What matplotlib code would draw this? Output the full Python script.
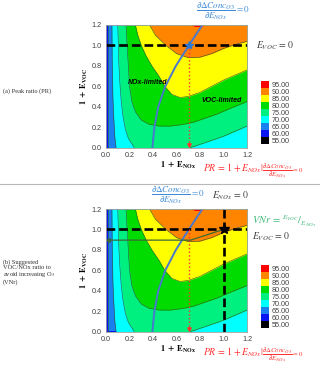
import numpy as np
import matplotlib
matplotlib.use("Agg")
import matplotlib.pyplot as plt
from matplotlib.lines import Line2D

plt.rcParams["mathtext.fontset"] = "stix"
plt.rcParams["font.family"] = ["Liberation Sans", "DejaVu Sans"]

# colour scale of the maps
levels = [55, 60, 65, 70, 75, 80, 85, 90, 95]
level_colors = ["#000000", "#0a14f0", "#1a80f0", "#00ffff", "#00f080",
                "#00dc00", "#ffff00", "#ff8400", "#ff0000"]

# contour boundaries, x = 1 + E_NOx, y = 1 + E_VOC
x65 = [0.018, 0.018]
y65 = [0.0, 1.2]
y70 = [0.0, 0.1, 0.3, 0.5, 0.8, 1.2]
x70 = [0.085, 0.075, 0.065, 0.058, 0.053, 0.05]
x75 = [0.10, 0.105, 0.11, 0.12, 0.13, 0.145, 0.165, 0.19, 0.24,
       0.72, 0.85, 1.0, 1.1, 1.2]
y75 = [1.2, 1.0, 0.8, 0.6, 0.45, 0.3, 0.18, 0.09, 0.0,
       0.0, 0.05, 0.11, 0.16, 0.21]
x80 = [0.17, 0.18, 0.19, 0.2, 0.22, 0.25, 0.3, 0.36, 0.45, 0.55, 0.65,
       0.75, 0.85, 0.95, 1.05, 1.2]
y80 = [1.2, 1.0, 0.8, 0.6, 0.45, 0.35, 0.27, 0.23, 0.21, 0.21, 0.225,
       0.25, 0.29, 0.33, 0.38, 0.45]
x85 = [0.25, 0.27, 0.30, 0.34, 0.39, 0.45, 0.50, 0.56, 0.63, 0.7, 0.8,
       0.9, 1.0, 1.1, 1.2]
y85 = [1.2, 1.1, 1.0, 0.9, 0.8, 0.7, 0.6, 0.52, 0.49, 0.5, 0.54, 0.6,
       0.66, 0.71, 0.76]
x90 = [0.37, 0.42, 0.51, 0.6, 0.7, 0.8, 0.9, 1.0, 1.1, 1.2]
y90 = [1.2, 1.1, 1.0, 0.92, 0.88, 0.885, 0.92, 0.97, 1.01, 1.04]
x95 = [0.72, 0.76, 0.80, 0.84]
y95 = [1.2, 1.185, 1.185, 1.2]

# d(dConc_O3)/dE_NOx = 0 curve
ridge_x = [0.395, 0.412, 0.445, 0.505, 0.595, 0.705, 0.82]
ridge_y = [0.0, 0.2, 0.4, 0.6, 0.8, 1.0, 1.2]

pr_x = 0.71          # peak ratio
vnr_y = 0.895        # suggested VOC/NOx level
vnr_knee_x = 0.72

ticks = [0.0, 0.2, 0.4, 0.6, 0.8, 1.0, 1.2]

W, H = 320, 368
BLUE = "#3c8ad8"
RED = "#ff3030"
GRAY = "#404040"
EDGE = "#2f5a30"


def fx(px):
    return px / W


def fy(py):
    return 1 - py / H


def draw_map(ax):
    ax.set_facecolor(level_colors[1])
    ax.fill_betweenx(y65, x65, 1.2, color=level_colors[2], lw=0)
    ax.fill_betweenx(y70, x70, 1.2, color=level_colors[3], lw=0)
    ax.fill_between(x75, y75, 1.2, color=level_colors[4], lw=0)
    ax.fill_between(x80, y80, 1.2, color=level_colors[5], lw=0)
    ax.fill_between(x85, y85, 1.2, color=level_colors[6], lw=0)
    ax.fill_between(x90, y90, 1.2, color=level_colors[7], lw=0)
    ax.fill_between(x95, y95, 1.2, color=level_colors[8], lw=0)
    for xs, ys in [(x65, y65), (x70, y70), (x75[:9], y75[:9]),
                   (x75[9:], y75[9:]), (x80, y80), (x85, y85), (x90, y90)]:
        ax.plot(xs, ys, color=EDGE, lw=0.4)
    ax.plot(ridge_x, ridge_y, color="#4a78cc", lw=1.4)
    ax.axhline(1.0, color="black", lw=1.9, dashes=(3.3, 1.5))

    # red dotted drop line to the PR value
    ax.plot([pr_x, pr_x], [1.0, 0.03], color=RED, ls=":", lw=1)
    ax.plot(pr_x, 0.025, marker="v", ms=2.5, color=RED, mec=RED)

    ax.set_xlim(0, 1.2)
    ax.set_ylim(0, 1.2)
    ax.set_xticks(ticks, [f"{t:.1f}" for t in ticks])
    ax.set_yticks(ticks, [f"{t:.1f}" for t in ticks])
    ax.tick_params(length=0, labelsize=5.2, colors=GRAY, pad=3)
    for s in ax.spines.values():
        s.set_color("#a0a0a0")
        s.set_linewidth(0.6)
    ax.set_xlabel(r"$\mathbf{1\ +\ E_{NOx}}$", fontsize=6)
    ax.set_ylabel(r"$\mathbf{1\ +\ E_{VOC}}$", fontsize=6)
    ax.xaxis.set_label_coords(0.51, -0.1)
    ax.yaxis.set_label_coords(-0.115, 0.5)


def draw_scale(cax):
    cax.barh(range(len(levels)), 1, height=1, color=level_colors, lw=0)
    cax.set_ylim(-0.5, len(levels) - 0.5)
    cax.set_xlim(0, 1)
    cax.yaxis.tick_right()
    cax.set_yticks(range(len(levels)), [f"{v:.2f}" for v in levels])
    cax.set_xticks([])
    cax.tick_params(length=0, labelsize=5.2, colors=GRAY, pad=2)
    for s in cax.spines.values():
        s.set_visible(False)


fig = plt.figure(figsize=(3.2, 3.68), dpi=100)

frac = r"$\dfrac{\partial\Delta Conc_{O3}}{\partial E_{NOx}} = 0$"
pr_txt = (r"$PR\,=\,1+E_{NOx}|_{\dfrac{\partial\Delta Conc_{O3}}"
          r"{\partial E_{NOx}}=0}$")

# ---- (a) peak ratio
ax1 = fig.add_axes([fx(106), fy(147.5), fx(141), 122.5 / H])
draw_map(ax1)
ax1.plot(pr_x, 1.0, marker="*", ms=6, color="#2f78d0", mec="#2f78d0")
ax1.text(0.355, 0.64, "NOx-limited", fontsize=5, fontweight="bold",
         style="italic", ha="center", va="center")
ax1.text(0.985, 0.46, "VOC-limited", fontsize=5, fontweight="bold",
         style="italic", ha="center", va="center")
draw_scale(fig.add_axes([fx(261), fy(144), fx(8), 63 / H]))

fig.text(fx(223), fy(11), frac, color=BLUE, fontsize=6.5,
         ha="center", va="center")
fig.text(fx(256), fy(46), r"$E_{VOC}\,=\,0$", color=GRAY, fontsize=7,
         ha="left", va="center")
fig.text(fx(203), fy(171), pr_txt, color=RED, fontsize=7,
         ha="left", va="center")
fig.text(fx(3), fy(91), "(a) Peak ratio (PR)", family="Liberation Serif",
         fontsize=4.6, color="#303030", ha="left", va="center")

fig.add_artist(Line2D([0, 1], [fy(183.5), fy(183.5)], color="#b8b8b8",
                      lw=0.8))

# ---- (b) suggested VOC/NOx ratio
ax2 = fig.add_axes([fx(106), fy(331.5), fx(141), 122.5 / H])
draw_map(ax2)
ax2.axvline(1.0, color="black", lw=1.9, dashes=(3.3, 1.5))
ax2.plot([1.0, vnr_knee_x, 0.02], [1.0, vnr_y, vnr_y], color="#3d6a35",
         lw=0.9)
ax2.plot(0.015, vnr_y, marker="<", ms=2.5, color="#3d6a35")
ax2.plot(1.0, 1.0, marker="*", ms=7, color="black")
draw_scale(fig.add_axes([fx(261), fy(328), fx(8), 63 / H]))

fig.text(fx(178), fy(195), frac, color=BLUE, fontsize=6.5,
         ha="center", va="center")
fig.text(fx(231), fy(196), r"$E_{NOx}\,=\,0$", color=GRAY, fontsize=7,
         ha="center", va="center")
fig.text(fx(252), fy(221), r"$VNr\,=\,{}^{E_{VOC}}/_{E_{NOx}}$",
         color="#3cb878", fontsize=7.5, ha="left", va="center")
fig.text(fx(252), fy(237), r"$E_{VOC}\,=\,0$", color=GRAY, fontsize=7,
         ha="left", va="center")
fig.text(fx(203), fy(355), pr_txt, color=RED, fontsize=7,
         ha="left", va="center")
fig.text(fx(3), fy(259),
         "(b) Suggested\nVOC/NOx ratio to\navoid increasing O$_3$\n(VNr)",
         family="Liberation Serif", fontsize=4.6, color="#303030",
         ha="left", va="top", linespacing=1.05)

fig.savefig("out.png", dpi=100)
